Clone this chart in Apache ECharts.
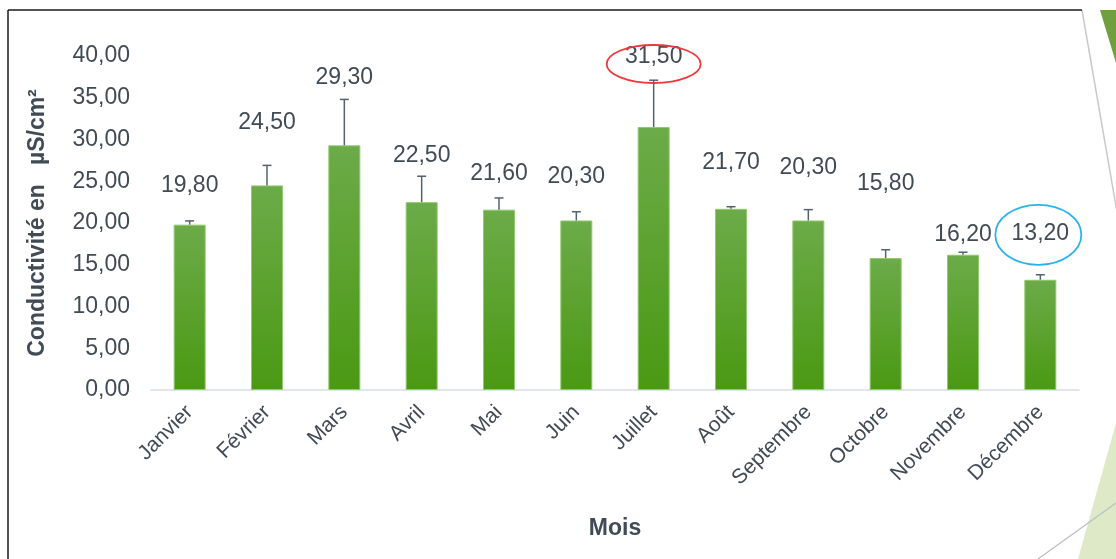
<!DOCTYPE html>
<html>
<head>
<meta charset="utf-8">
<title>Conductivité mensuelle</title>
<script src="https://cdn.jsdelivr.net/npm/echarts@6/dist/echarts.min.js"></script>
<style>
  html, body { margin: 0; padding: 0; background: #ffffff; }
  #chart { width: 1116px; height: 559px; }
</style>
</head>
<body>
<div id="chart"></div>
<script>
  // valeurs
  const months = ['Janvier', 'Février', 'Mars', 'Avril', 'Mai', 'Juin', 'Juillet', 'Août', 'Septembre', 'Octobre', 'Novembre', 'Décembre'];
  const conductivity = [19.8, 24.5, 29.3, 22.5, 21.6, 20.3, 31.5, 21.7, 20.3, 15.8, 16.2, 13.2];
  const errorUp = [0.45, 2.4, 5.5, 3.1, 1.4, 1.05, 5.6, 0.25, 1.3, 1.0, 0.3, 0.6];
  const yTicks = [0, 5, 10, 15, 20, 25, 30, 35, 40];

  // mise en page des étiquettes (px au-dessus du haut de la barre), posées à la main comme dans Excel
  const labelLift = [39, 63, 68, 46, 36, 44, 70, 46, 53, 74, 20, 46];

  const textColor = '#404b55';
  const font = "'Liberation Sans', Arial, sans-serif";
  const fmt = v => v.toFixed(2).replace('.', ',');

  const maxIdx = conductivity.indexOf(Math.max(...conductivity));
  const minIdx = conductivity.indexOf(Math.min(...conductivity));
  // cercles de mise en évidence
  const rings = {};
  rings[maxIdx] = { color: '#f0373c', rx: 47, ry: 19, dx: 0, dy: 7 };
  rings[minIdx] = { color: '#2bb2ea', rx: 43, ry: 30, dx: -2, dy: 1 };

  const chart = echarts.init(document.getElementById('chart'));

  const option = {
    backgroundColor: '#ffffff',
    animation: false,
    grid: { left: 151, right: 37, top: 56, bottom: 169 },
    xAxis: {
      type: 'category',
      data: months,
      name: 'Mois',
      nameLocation: 'middle',
      nameGap: 127,
      nameTextStyle: { color: textColor, fontFamily: font, fontSize: 23, fontWeight: 'bold' },
      axisLine: { lineStyle: { color: '#d8dee3', width: 1.5 } },
      axisTick: { show: false },
      axisLabel: { rotate: 45, margin: 19, color: textColor, fontFamily: font, fontSize: 21, interval: 0 }
    },
    yAxis: {
      type: 'value',
      min: yTicks[0],
      max: yTicks[yTicks.length - 1],
      interval: yTicks[1] - yTicks[0],
      name: 'Conductivité en   µS/cm²',
      nameLocation: 'middle',
      nameGap: 102,
      nameTextStyle: { color: textColor, fontFamily: font, fontSize: 23, fontWeight: 'bold' },
      axisLine: { show: false },
      axisTick: { show: false },
      splitLine: { show: false },
      axisLabel: { margin: 21, color: textColor, fontFamily: font, fontSize: 23, formatter: fmt }
    },
    series: [
      {
        name: 'Conductivité',
        type: 'bar',
        data: conductivity,
        barWidth: 32,
        itemStyle: {
          color: new echarts.graphic.LinearGradient(0, 0, 0, 1, [
            { offset: 0, color: '#6cab49' },
            { offset: 1, color: '#4a9913' }
          ]),
          borderColor: '#92c870',
          borderWidth: 1
        },
        z: 2
      },
      {
        // barres d'erreur (vers le haut seulement)
        name: 'erreur',
        type: 'custom',
        data: conductivity.map((v, i) => [i, v, v + errorUp[i]]),
        renderItem: function (params, api) {
          const base = api.coord([api.value(0), api.value(1)]);
          const top = api.coord([api.value(0), api.value(2)]);
          const st = { stroke: '#53636f', lineWidth: 1.5 };
          return {
            type: 'group',
            children: [
              { type: 'line', shape: { x1: base[0], y1: base[1], x2: top[0], y2: top[1] }, style: st },
              { type: 'line', shape: { x1: top[0] - 4.5, y1: top[1], x2: top[0] + 4.5, y2: top[1] }, style: st }
            ]
          };
        },
        z: 3
      },
      {
        // étiquettes de valeurs + ellipses
        name: 'etiquettes',
        type: 'custom',
        data: conductivity.map((v, i) => [i, v]),
        renderItem: function (params, api) {
          const i = api.value(0);
          const p = api.coord([i, api.value(1)]);
          const cy = p[1] - labelLift[i];
          const kids = [{
            type: 'text',
            style: {
              x: p[0], y: cy, text: fmt(api.value(1)),
              fill: textColor, font: '23px ' + font,
              textAlign: 'center', textVerticalAlign: 'middle'
            }
          }];
          const r = rings[i];
          if (r) {
            kids.push({
              type: 'ellipse',
              shape: { cx: p[0] + r.dx, cy: cy + r.dy, rx: r.rx, ry: r.ry },
              style: { fill: 'none', stroke: r.color, lineWidth: 1.8 }
            });
          }
          return { type: 'group', children: kids };
        },
        z: 4
      }
    ],
    graphic: [
      // cadre et décor de la diapo
      { type: 'polygon', shape: { points: [[1100, 10], [1116, 10], [1116, 63]] }, style: { fill: '#6f9f3f' }, z: 1 },
      { type: 'polygon', shape: { points: [[1078, 559], [1116, 423], [1116, 559]] }, style: { fill: '#deeac7' }, z: 1 },
      { type: 'line', shape: { x1: 1082, y1: 10, x2: 1117, y2: 212 }, style: { stroke: '#c9c9c9', lineWidth: 1.5 }, z: 1 },
      { type: 'line', shape: { x1: 1038, y1: 559, x2: 1116, y2: 503 }, style: { stroke: '#bdbdbd', lineWidth: 1.2 }, z: 1 },
      { type: 'line', shape: { x1: 8, y1: 10, x2: 1082, y2: 10 }, style: { stroke: '#1a1a1a', lineWidth: 1.5 }, z: 1 },
      { type: 'line', shape: { x1: 8, y1: 10, x2: 8, y2: 559 }, style: { stroke: '#1a1a1a', lineWidth: 1.5 }, z: 1 }
    ]
  };

  chart.setOption(option);
  window.addEventListener('resize', function () { chart.resize(); });
</script>
</body>
</html>
